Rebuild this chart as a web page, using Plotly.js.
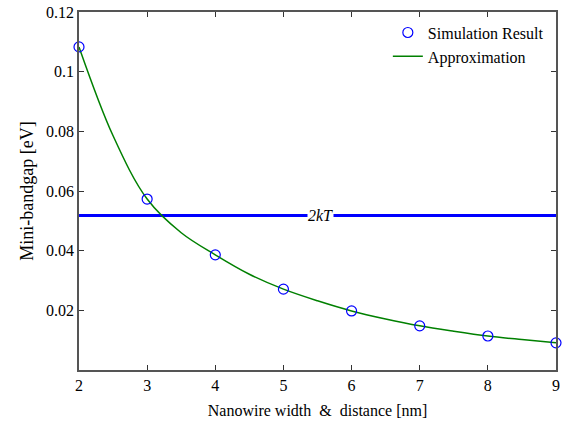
<!DOCTYPE html>
<html>
<head>
<meta charset="utf-8">
<script src="https://cdn.plot.ly/plotly-3.0.1.min.js"></script>
<style>html,body{margin:0;padding:0;background:#fff;font-family:'Liberation Serif',serif;}#plot{width:567px;height:425px;}
.modebar-container{display:none !important;}</style>
</head>
<body>
<div id="plot"></div>
<script>
const widths = [2, 3, 4, 5, 6, 7, 8, 9];
const simulation = [0.1083, 0.0573, 0.0386, 0.0271, 0.0198, 0.0148, 0.0114, 0.0091];
const approxX = [2, 2.5, 3, 3.5, 4, 4.5, 5, 5.5, 6, 6.5, 7, 7.5, 8, 8.5, 9];
const approxY = [0.1083, 0.0785, 0.0573, 0.0460, 0.0386, 0.0321, 0.0271, 0.0232, 0.0198, 0.0171, 0.0148, 0.0130, 0.0114, 0.0102, 0.0091];
const kT2 = 0.0518;
const xRange = [2, 9];
const yTicks = [0.02, 0.04, 0.06, 0.08, 0.1, 0.12];
const yTickText = ['0.02', '0.04', '0.06', '0.08', '0.1', '0.12'];

const FAM = 'Liberation Serif';
function f(size) { return {family: FAM, size: size, color: '#000'}; }

const traces = [
  {x: xRange, y: [kT2, kT2], mode: 'lines', line: {color: '#0000ff', width: 3}, showlegend: false, hoverinfo: 'skip'},
  {x: approxX, y: approxY, mode: 'lines', name: 'Approximation', line: {color: '#008000', width: 1.5, shape: 'spline'}},
  {x: widths, y: simulation, mode: 'markers', name: 'Simulation Result', cliponaxis: false,
   marker: {symbol: 'circle-open', size: 10, color: '#0000ff', line: {width: 1.2, color: '#0000ff'}}}
];

const layout = {
  width: 567, height: 425,
  margin: {l: 79, r: 11, t: 12, b: 55},
  paper_bgcolor: '#fff', plot_bgcolor: '#fff',
  font: f(16),
  xaxis: {
    showline: true, linecolor: '#555', linewidth: 1.5, mirror: 'ticks',
    ticks: 'inside', ticklen: 5, tickcolor: '#333', tickwidth: 1,
    showgrid: false, zeroline: false, tickfont: f(16),
    range: xRange, dtick: 1, tick0: 2,
    title: {text: 'Nanowire width&nbsp; &amp; &nbsp;distance [nm]', font: f(16), standoff: 12}
  },
  yaxis: {
    showline: true, linecolor: '#555', linewidth: 1.5, mirror: 'ticks',
    ticks: 'inside', ticklen: 5, tickcolor: '#333', tickwidth: 1,
    showgrid: false, zeroline: false, tickfont: f(16),
    range: [0, 0.12], tickvals: yTicks, ticktext: yTickText,
    title: {text: 'Mini-bandgap [eV]', font: f(18), standoff: 8}
  },
  legend: {x: 0.985, y: 0.99, xanchor: 'right', yanchor: 'top', bgcolor: 'rgba(255,255,255,0)',
    font: f(16), traceorder: 'reversed', tracegroupgap: 0, itemwidth: 30},
  annotations: [{x: 5.55, y: kT2, xref: 'x', yref: 'y', text: '<i>2kT</i>', showarrow: false,
    bgcolor: '#fff', font: f(16), borderpad: 0}]
};

Plotly.newPlot('plot', traces, layout, {displayModeBar: false});
</script>
</body>
</html>
